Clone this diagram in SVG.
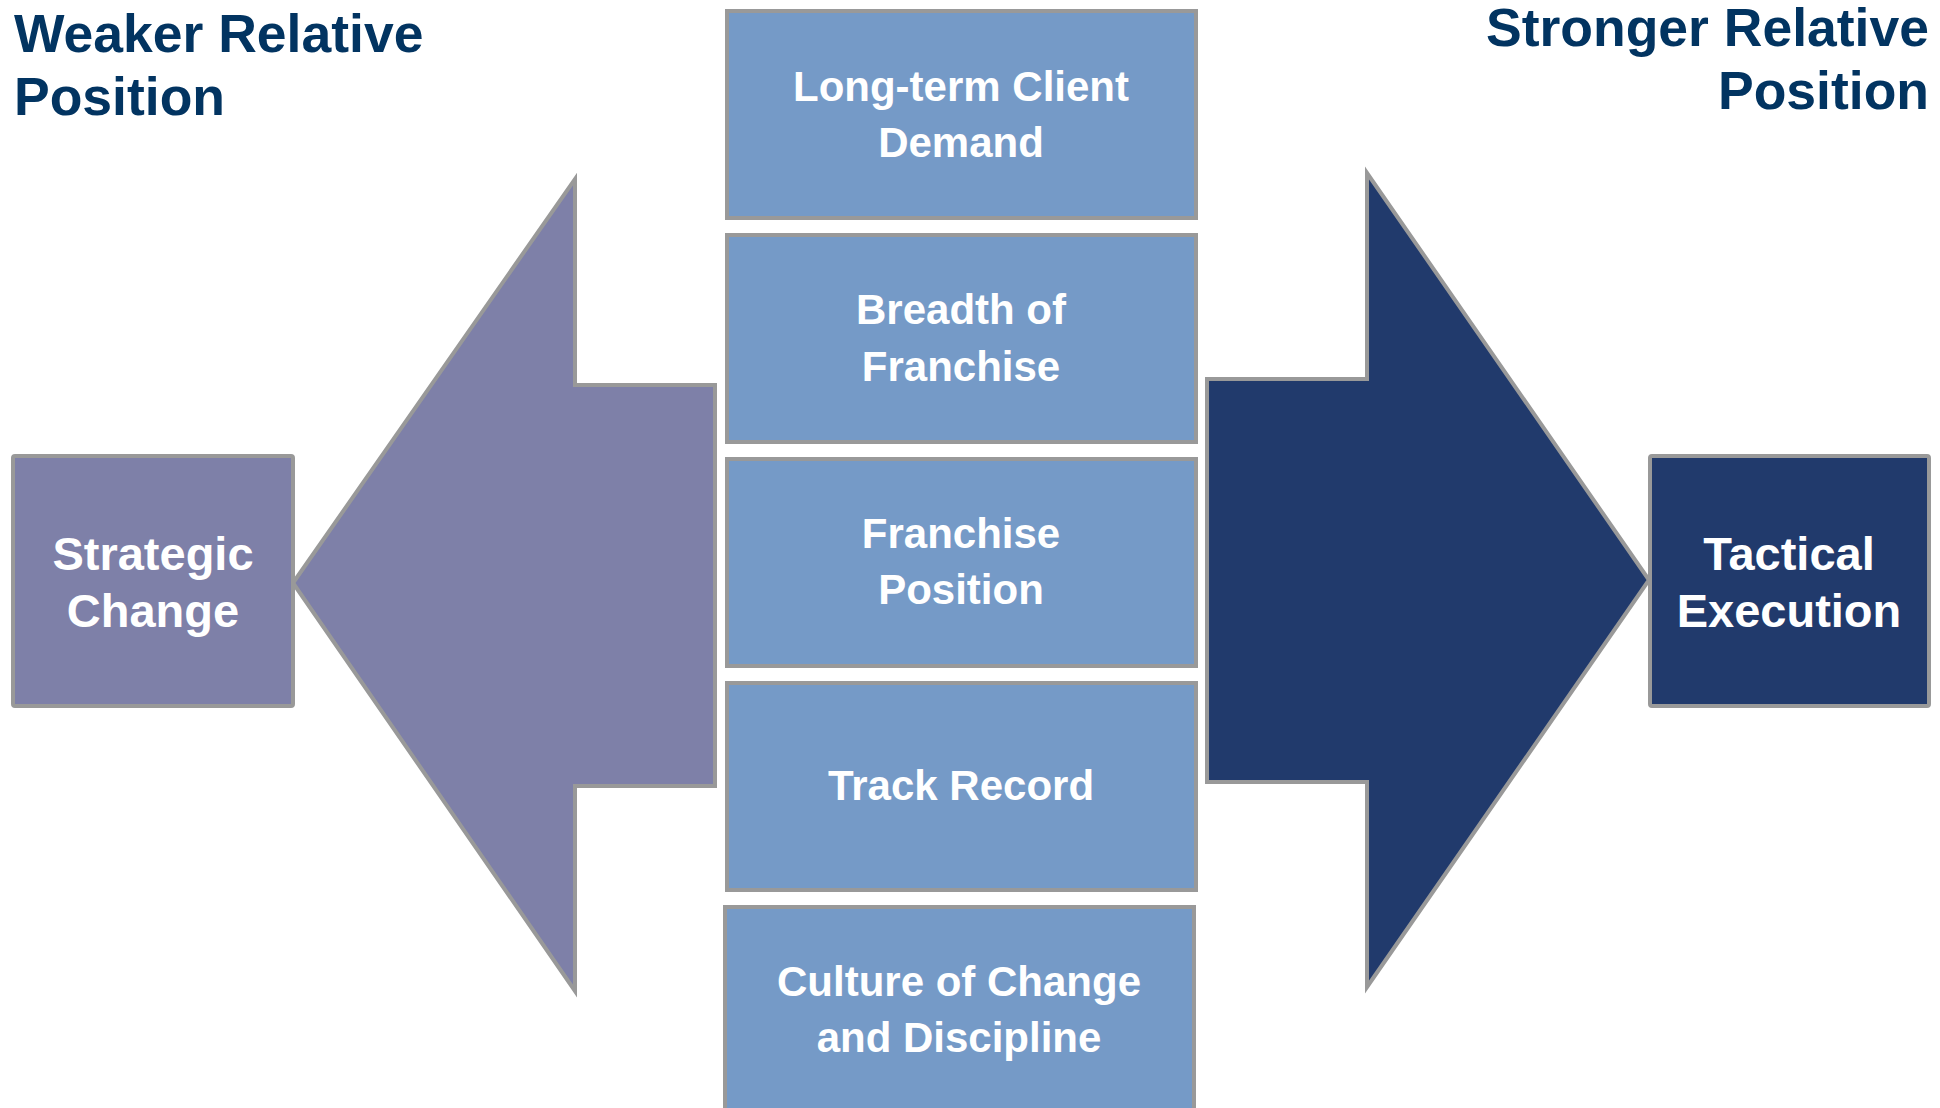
<svg xmlns="http://www.w3.org/2000/svg" width="1940" height="1108" viewBox="0 0 1940 1108">
<style>
.title{font-family:"Liberation Sans",Arial,sans-serif;font-weight:bold;font-size:53.5px;fill:#023461}
.box{fill:#759AC7;stroke:#999999;stroke-width:4}
.lbl{font-family:"Liberation Sans",Arial,sans-serif;font-weight:bold;font-size:42px;fill:#ffffff;text-anchor:middle}
.big{font-family:"Liberation Sans",Arial,sans-serif;font-weight:bold;font-size:47px;fill:#ffffff;text-anchor:middle}
.arrow{stroke:#999999;stroke-width:4;stroke-linejoin:miter}
</style>
<rect width="1940" height="1108" fill="#ffffff"/>
<g id="title-weaker">
<text class="title" x="14" y="52">Weaker Relative</text>
<text class="title" x="14" y="115">Position</text>
</g>
<g id="title-stronger">
<text class="title" x="1929" y="46" text-anchor="end">Stronger Relative</text>
<text class="title" x="1929" y="109" text-anchor="end">Position</text>
</g>
<g id="connectors">
<polygon id="arrow-left" class="arrow" fill="#7E80A8" points="293,583 575,179 575,385 715,385 715,786 575,786 575,991"/>
<polygon id="arrow-right" class="arrow" fill="#213A6C" points="1649,580 1367,173 1367,379 1207,379 1207,782 1367,782 1367,987"/>
</g>
<g id="node-strategic">
<rect x="13" y="456" width="280" height="250" rx="2" fill="#7E80A8" stroke="#999999" stroke-width="4"/>
<text class="big" x="153" y="570">Strategic</text>
<text class="big" x="153" y="627">Change</text>
</g>
<g id="node-tactical">
<rect x="1650" y="456" width="279" height="250" rx="2" fill="#213A6C" stroke="#999999" stroke-width="4"/>
<text class="big" x="1789" y="570">Tactical</text>
<text class="big" x="1789" y="627">Execution</text>
</g>
<g id="node-demand">
<rect class="box" x="727" y="11" width="469" height="207"/>
<text class="lbl" x="961" y="101">Long-term Client</text>
<text class="lbl" x="961" y="157">Demand</text>
</g>
<g id="node-breadth">
<rect class="box" x="727" y="235" width="469" height="207"/>
<text class="lbl" x="961" y="324">Breadth of</text>
<text class="lbl" x="961" y="381">Franchise</text>
</g>
<g id="node-position">
<rect class="box" x="727" y="459" width="469" height="207"/>
<text class="lbl" x="961" y="548">Franchise</text>
<text class="lbl" x="961" y="604">Position</text>
</g>
<g id="node-track">
<rect class="box" x="727" y="683" width="469" height="207"/>
<text class="lbl" x="961" y="800">Track Record</text>
</g>
<g id="node-culture">
<rect class="box" x="725" y="907" width="469" height="220"/>
<text class="lbl" x="959" y="996">Culture of Change</text>
<text class="lbl" x="959" y="1052">and Discipline</text>
</g>
</svg>
